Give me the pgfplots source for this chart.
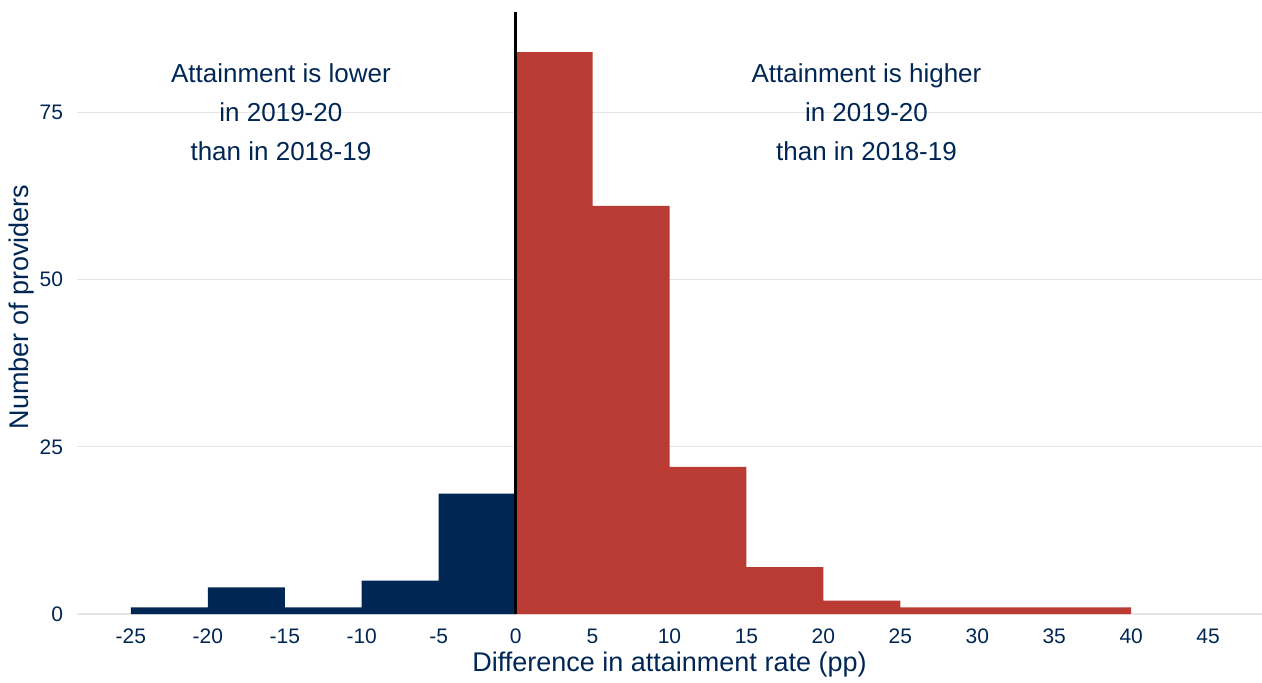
\documentclass[border=0pt]{standalone}
\usepackage{fontspec}
\setmainfont{Liberation Sans}
\usepackage{pgfplots}
\pgfplotsset{compat=1.18}
\definecolor{navy}{RGB}{0,38,84}
\definecolor{bred}{RGB}{186,58,52}
\definecolor{gridc}{RGB}{229,229,229}
\begin{document}
\begin{tikzpicture}
\useasboundingbox (-38.5pt,-34pt) rectangle (592.5pt,307pt);
\begin{axis}[
  at={(0pt,0pt)}, anchor=south west,
  scale only axis, width=592.5pt, height=301pt,
  xmin=-28.5, xmax=48.5, ymin=0, ymax=90,
  axis line style={draw=none},
  major tick length=0pt,
  ymajorgrids, grid style={gridc, line width=0.6pt},
  xtick={-25,-20,-15,-10,-5,0,5,10,15,20,25,30,35,40,45},
  xticklabels={-25,-20,-15,-10,-5,0,5,10,15,20,25,30,35,40,45},
  ytick={0,25,50,75}, yticklabels={0,25,50,75},
  tick label style={font=\fontsize{10.5}{12}\selectfont, text=navy},
  xticklabel style={yshift=-4pt},
  yticklabel style={xshift=-3.5pt},
  label style={font=\fontsize{13.5}{16}\selectfont, text=navy},
  xlabel={Difference in attainment rate (pp)},
  ylabel={Number of providers},
  xlabel style={at={(axis description cs:0.5,-0.0847)}, anchor=center},
  ylabel style={at={(axis description cs:-0.0464,0.51)}, anchor=center},
  clip=false,
]
\addplot[ybar interval, fill=navy, draw=none] coordinates {(-25,1) (-20,4) (-15,1) (-10,5) (-5,18) (0,18)};
\addplot[ybar interval, fill=bred, draw=none] coordinates {(0,84) (5,61) (10,22) (15,7) (20,2) (25,1) (30,1) (35,1) (40,1)};
\addplot[black, line width=1.2pt] coordinates {(0,0) (0,90)};
\node[align=center, font=\fontsize{13}{19.5}\selectfont, text=navy] at (axis cs:-15.25,75) {Attainment is lower\\in 2019-20\\than in 2018-19};
\node[align=center, font=\fontsize{13}{19.5}\selectfont, text=navy] at (axis cs:22.8,75) {Attainment is higher\\in 2019-20\\than in 2018-19};
\end{axis}
\end{tikzpicture}
\end{document}
